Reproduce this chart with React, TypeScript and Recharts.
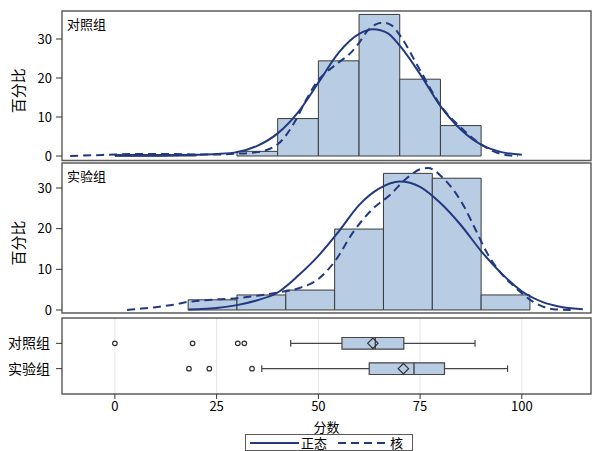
import React from "react";
import {
  ComposedChart,
  Line,
  XAxis,
  YAxis,
  CartesianGrid,
  ReferenceArea,
  ReferenceLine,
  Scatter,
} from "recharts";

// shared x axis
const xTicks = [0, 25, 50, 75, 100];
const xDomain: [number, number] = [-13, 117];
const pctTicks = [0, 10, 20, 30];

// histogram bins (percent)
const ctrlEdges = [0, 10, 20, 30, 40, 50, 60, 70, 80, 90];
const ctrlPct = [0.4, 0.4, 0, 1.2, 9.6, 24.4, 36.3, 19.7, 7.8];
const expEdges = [18, 30, 42, 54, 66, 78, 90, 102];
const expPct = [2.5, 3.7, 4.9, 19.9, 33.6, 32.4, 3.7];

// density curves: [score, percent]
const ctrlNormal: [number, number][] = [
  [0, 0.1], [5, 0.1], [10, 0.1], [15, 0.2], [20, 0.3], [25, 0.5], [30, 1.0],
  [35, 2.6], [40, 5.8], [45, 11.2], [50, 18.8], [55, 26.5], [60, 31.3],
  [63.5, 32.5], [67, 31.5], [70, 28.3], [75, 21.0], [80, 12.8], [85, 6.8],
  [90, 2.9], [95, 1.0], [100, 0.3],
];
const ctrlKernel: [number, number][] = [
  [-11, 0.0], [-5, 0.2], [0, 0.4], [5, 0.5], [10, 0.5], [15, 0.5], [20, 0.4],
  [25, 0.4], [30, 0.6], [35, 1.0], [40, 3.0], [44, 8.4], [47, 14.4],
  [50, 19.5], [52, 21.5], [55, 24.0], [58, 26.5], [60, 29.0], [62, 32.0],
  [64, 33.7], [66, 34.2], [68, 33.5], [70, 31.0], [75, 22.0], [80, 13.0],
  [85, 7.3], [90, 3.0], [95, 0.5], [99, 0.0],
];
const expNormal: [number, number][] = [
  [18, 0.1], [20, 0.2], [25, 0.5], [30, 1.2], [35, 2.4], [40, 4.3], [45, 8.4],
  [50, 13.3], [55, 19.3], [60, 25.8], [65, 29.9], [70, 31.6], [75, 30.3],
  [80, 26.3], [85, 20.9], [90, 14.5], [95, 9.0], [100, 4.6], [105, 2.0],
  [110, 0.7], [115, 0.2],
];
const expKernel: [number, number][] = [
  [3, 0.0], [5, 0.2], [10, 0.7], [15, 1.4], [18, 2.0], [20, 2.2], [25, 2.6],
  [30, 2.9], [35, 3.5], [40, 4.3], [45, 5.3], [50, 7.6], [54, 11.9],
  [58.6, 19.2], [63.5, 25.0], [67.6, 28.3], [71.7, 32.4], [75.7, 34.8],
  [77, 34.9], [80.7, 32.4], [85.6, 25.8], [88.9, 19.2], [91.3, 14.3],
  [94.6, 9.4], [98.7, 5.3], [102.8, 2.0], [107.7, 0.2], [112, 0.0],
];

// box plot stats
const boxGroups = ["对照组", "实验组"];
const boxLow = [43.2, 36.1];
const boxQ1 = [55.8, 62.5];
const boxMedian = [64.0, 73.5];
const boxQ3 = [71.0, 81.0];
const boxHigh = [88.5, 96.5];
const boxMean = [63.4, 70.9];
const boxOutliers = [
  [0, 19.1, 30.2, 31.8],
  [18.2, 23.2, 33.7],
];

const W = 593;
const H = 451;
const FONT = '"Noto Sans CJK SC", "Noto Sans", sans-serif';
const BAR_FILL = "#b8cce4";
const BAR_EDGE = "#3a3a3a";
const CURVE = "#22397f";
const FRAME = "#5c5c5c";
const GRID = "#e6e6e6";

const toPts = (arr: [number, number][]) => arr.map(([x, y]) => ({ x, y }));

const pctLabel = (props: any) => {
  const vb = props.viewBox || {};
  const cx = (vb.x || 0) + 17.5;
  const cy = vb.y + vb.height / 2 + 5;
  return (
    <text
      x={cx}
      y={cy}
      transform={`rotate(-90 ${cx} ${cy})`}
      textAnchor="middle"
      dominantBaseline="central"
      fontSize={15}
      fill="#000"
    >
      百分比
    </text>
  );
};

interface HistProps {
  top: number;
  bottom: number;
  yDomain: [number, number];
  edges: number[];
  pct: number[];
  normal: [number, number][];
  kernel: [number, number][];
}

function HistPanel({ top, bottom, yDomain, edges, pct, normal, kernel }: HistProps) {
  return (
    <div style={{ position: "absolute", left: 0, top: 0 }}>
      <ComposedChart width={W} height={H} margin={{ top, right: 2, bottom: H - bottom, left: 0 }}>
        <CartesianGrid horizontal={false} stroke={GRID} />
        <XAxis
          type="number"
          dataKey="x"
          domain={xDomain}
          ticks={xTicks}
          allowDataOverflow
          height={0}
          tick={false}
          tickLine={false}
          axisLine={false}
        />
        <YAxis
          type="number"
          domain={yDomain}
          ticks={pctTicks}
          allowDataOverflow
          width={62}
          axisLine={false}
          tickSize={6}
          tickMargin={4}
          tickLine={{ stroke: "#333" }}
          tick={{ fontSize: 13, fill: "#000" }}
          label={pctLabel}
        />
        {pct.map((p, i) =>
          p > 0 ? (
            <ReferenceArea
              key={i}
              x1={edges[i]}
              x2={edges[i + 1]}
              y1={0}
              y2={p}
              fill={BAR_FILL}
              fillOpacity={1}
              stroke={BAR_EDGE}
              strokeWidth={1}
              ifOverflow="visible"
            />
          ) : null
        )}
        <Line
          data={toPts(normal)}
          dataKey="y"
          type="monotone"
          stroke={CURVE}
          strokeWidth={2}
          dot={false}
          activeDot={false}
          isAnimationActive={false}
        />
        <Line
          data={toPts(kernel)}
          dataKey="y"
          type="monotone"
          stroke={CURVE}
          strokeWidth={2}
          strokeDasharray="8 5"
          dot={false}
          activeDot={false}
          isAnimationActive={false}
        />
        <ReferenceArea
          x1={xDomain[0]}
          x2={xDomain[1]}
          y1={yDomain[0]}
          y2={yDomain[1]}
          fill="none"
          stroke={FRAME}
          strokeWidth={1.4}
          ifOverflow="visible"
        />
      </ComposedChart>
    </div>
  );
}

const Diamond = (props: any) => {
  const { cx, cy } = props;
  const r = 5.2;
  return (
    <path
      d={`M${cx},${cy - r}L${cx + r},${cy}L${cx},${cy + r}L${cx - r},${cy}Z`}
      fill="none"
      stroke="#333"
      strokeWidth={1.2}
    />
  );
};

const Ring = (props: any) => {
  const { cx, cy } = props;
  return <circle cx={cx} cy={cy} r={2.3} fill="#fff" stroke="#333" strokeWidth={1.2} />;
};

function BoxPanel() {
  const top = 318;
  const plotBottom = 394;
  const axisH = 40;
  const half = 0.23;
  const cap = 0.13;
  const means = boxMean.map((m, i) => ({ x: m, y: i + 1 }));
  const outs = boxOutliers.flatMap((arr, i) => arr.map((v) => ({ x: v, y: i + 1 })));
  return (
    <div style={{ position: "absolute", left: 0, top: 0 }}>
      <ComposedChart
        width={W}
        height={H}
        margin={{ top, right: 2, bottom: H - plotBottom - axisH, left: 0 }}
      >
        <CartesianGrid horizontal={false} stroke={GRID} />
        <XAxis
          type="number"
          dataKey="x"
          domain={xDomain}
          ticks={xTicks}
          allowDataOverflow
          height={axisH}
          axisLine={false}
          tickSize={5}
          tickMargin={3}
          tickLine={{ stroke: "#333" }}
          tick={{ fontSize: 13, fill: "#000" }}
          label={{ value: "分数", position: "insideBottom", offset: 2, fontSize: 13, fill: "#000" }}
        />
        <YAxis
          type="number"
          dataKey="y"
          domain={[0, 3]}
          reversed
          ticks={[1, 2]}
          allowDataOverflow
          width={62}
          axisLine={false}
          tickSize={6}
          tickMargin={6}
          tickLine={{ stroke: "#333" }}
          tick={{ fontSize: 14, fill: "#000" }}
          tickFormatter={(v: number) => boxGroups[v - 1]}
        />
        {boxGroups.map((g, i) => {
          const row = i + 1;
          return (
            <React.Fragment key={g}>
              <ReferenceLine
                segment={[{ x: boxLow[i], y: row }, { x: boxQ1[i], y: row }]}
                stroke="#444"
                strokeWidth={1.2}
                ifOverflow="visible"
              />
              <ReferenceLine
                segment={[{ x: boxQ3[i], y: row }, { x: boxHigh[i], y: row }]}
                stroke="#444"
                strokeWidth={1.2}
                ifOverflow="visible"
              />
              <ReferenceLine
                segment={[{ x: boxLow[i], y: row - cap }, { x: boxLow[i], y: row + cap }]}
                stroke="#444"
                strokeWidth={1.2}
                ifOverflow="visible"
              />
              <ReferenceLine
                segment={[{ x: boxHigh[i], y: row - cap }, { x: boxHigh[i], y: row + cap }]}
                stroke="#444"
                strokeWidth={1.2}
                ifOverflow="visible"
              />
              <ReferenceArea
                x1={boxQ1[i]}
                x2={boxQ3[i]}
                y1={row - half}
                y2={row + half}
                fill={BAR_FILL}
                fillOpacity={1}
                stroke="#444"
                strokeWidth={1.2}
                ifOverflow="visible"
              />
              <ReferenceLine
                segment={[{ x: boxMedian[i], y: row - half }, { x: boxMedian[i], y: row + half }]}
                stroke="#444"
                strokeWidth={1.4}
                ifOverflow="visible"
              />
            </React.Fragment>
          );
        })}
        <Scatter data={means} shape={Diamond} isAnimationActive={false} />
        <Scatter data={outs} shape={Ring} isAnimationActive={false} />
        <ReferenceArea
          x1={xDomain[0]}
          x2={xDomain[1]}
          y1={0}
          y2={3}
          fill="none"
          stroke={FRAME}
          strokeWidth={1.4}
          ifOverflow="visible"
        />
      </ComposedChart>
    </div>
  );
}

function LegendBox() {
  return (
    <div
      style={{
        position: "absolute",
        left: 245,
        top: 434,
        width: 168,
        height: 17,
        boxSizing: "border-box",
        border: `1px solid ${FRAME}`,
        display: "flex",
        alignItems: "center",
        fontSize: 13,
        lineHeight: "15px",
        paddingLeft: 4,
        whiteSpace: "nowrap",
      }}
    >
      <svg width={49} height={6} style={{ flex: "none" }}>
        <line x1={0} y1={3} x2={49} y2={3} stroke={CURVE} strokeWidth={2} />
      </svg>
      <span style={{ marginLeft: 2, flex: "none" }}>正态</span>
      <svg width={48} height={6} style={{ marginLeft: 11, flex: "none" }}>
        <line x1={0} y1={3} x2={48} y2={3} stroke={CURVE} strokeWidth={2} strokeDasharray="8 5" />
      </svg>
      <span style={{ marginLeft: 4, flex: "none" }}>核</span>
    </div>
  );
}

const panelTitle: React.CSSProperties = {
  position: "absolute",
  left: 67,
  fontSize: 13,
  lineHeight: "16px",
};

export default function App() {
  return (
    <div
      style={{
        position: "absolute",
        left: 0,
        top: 0,
        width: W,
        height: H,
        background: "#fff",
        fontFamily: FONT,
        color: "#000",
      }}
    >
      <HistPanel
        top={11}
        bottom={160.5}
        yDomain={[-1.15, 37.18]}
        edges={ctrlEdges}
        pct={ctrlPct}
        normal={ctrlNormal}
        kernel={ctrlKernel}
      />
      <HistPanel
        top={163}
        bottom={313}
        yDomain={[-0.74, 36.15]}
        edges={expEdges}
        pct={expPct}
        normal={expNormal}
        kernel={expKernel}
      />
      <BoxPanel />
      <div style={{ ...panelTitle, top: 16 }}>对照组</div>
      <div style={{ ...panelTitle, top: 168 }}>实验组</div>
      <LegendBox />
    </div>
  );
}
